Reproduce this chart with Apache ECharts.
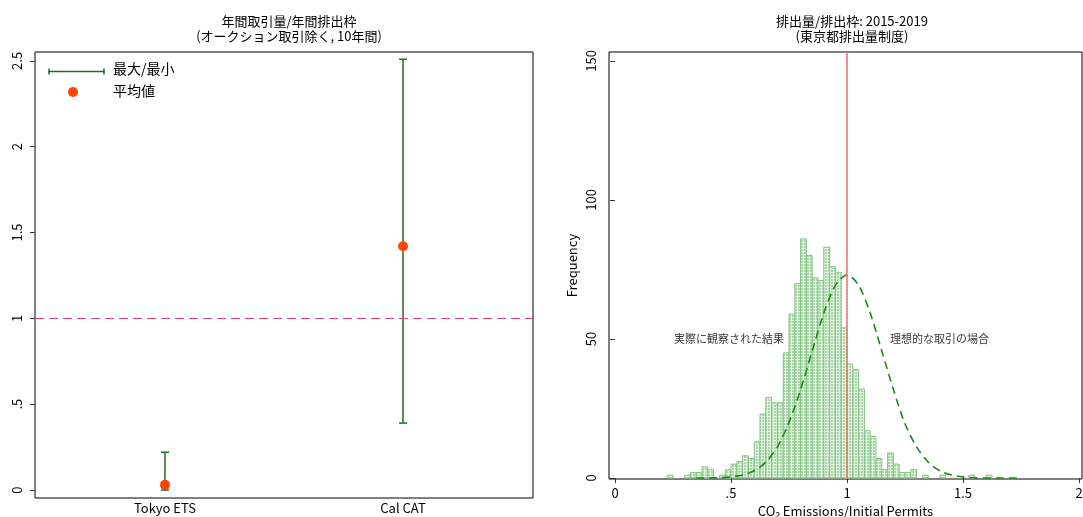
<!DOCTYPE html>
<html>
<head>
<meta charset="utf-8">
<title>排出量と排出枠</title>
<script src="https://cdn.jsdelivr.net/npm/echarts@6/dist/echarts.min.js"></script>
<style>
  html, body { margin: 0; padding: 0; background: #fff; }
  #main { width: 1083px; height: 517px; }
</style>
</head>
<body>
<div id="main"></div>
<script>
  // left panel: trading volume / cap, min-max and mean
  const tradeCats = ['Tokyo ETS', 'Cal CAT'];
  const tradeMin = [0.0, 0.39];
  const tradeMax = [0.22, 2.51];
  const tradeMean = [0.03, 1.42];
  const leftTicks = [0, 0.5, 1, 1.5, 2, 2.5];
  const leftTickLabels = ['0', '.5', '1', '1.5', '2', '2.5'];

  // right panel: histogram of emissions / initial permits (bin width .025)
  const binStart = 0.225;
  const binWidth = 0.025;
  const binCounts = [
    1, 0, 0, 1, 2, 2, 4, 3, 0, 1,
    3, 5, 6, 8, 7, 13, 23, 29, 27, 27,
    45, 59, 70, 86, 80, 72, 71, 83, 76, 74,
    54, 41, 39, 32, 17, 15, 7, 3, 9, 5,
    2, 2, 3, 0, 1, 0, 0, 1, 0, 0,
    0, 0, 1, 0, 0, 1
  ];
  // ideal-trading curve
  const curveX = [0.35, 0.4, 0.45, 0.5, 0.55, 0.6, 0.65, 0.7, 0.75, 0.8,
    0.85, 0.9, 0.95, 1.0, 1.05, 1.1, 1.15, 1.2, 1.25, 1.3,
    1.35, 1.4, 1.45, 1.5, 1.55, 1.6, 1.65, 1.7, 1.75];
  const curveY = [0, 0, 0.1, 0.4, 1.1, 2.6, 5.7, 11.2, 20, 31.8,
    45.7, 59.3, 69.3, 73, 69.3, 59.3, 45.7, 31.8, 19.5, 11.2,
    5.7, 2.6, 1.1, 0.4, 0.1, 0, 0, 0, 0];
  const rightXTicks = [0, 0.5, 1, 1.5, 2];
  const rightXLabels = ['0', '.5', '1', '1.5', '2'];
  const rightYTicks = [0, 50, 100, 150];
  const notes = [
    [0.728, 50, '実際に観察された結果', 'left'],
    [1.185, 50, '理想的な取引の場合', 'right']
  ];

  const font = '"Noto Sans CJK JP", "Noto Sans", sans-serif';
  const green = '#1f6e24';

  // small mesh texture like the stata bar fill
  const tex = document.createElement('canvas');
  tex.width = 3; tex.height = 3;
  const tc = tex.getContext('2d');
  tc.fillStyle = '#a6d6a6';
  tc.fillRect(0, 0, 3, 3);
  tc.fillStyle = '#e2f3e2';
  tc.fillRect(2, 0, 1, 3);
  tc.fillRect(0, 2, 3, 1);

  const errData = tradeCats.map((c, i) => [i + 1, tradeMin[i], tradeMax[i]]);
  const meanData = tradeCats.map((c, i) => [i + 1, tradeMean[i]]);
  const histData = binCounts.map((n, i) => [binStart + i * binWidth, binStart + (i + 1) * binWidth, n]);
  const curveData = curveX.map((x, i) => [x, curveY[i]]);
  const noteData = notes.map(n => ({
    value: [n[0], n[1]],
    label: { position: n[3], distance: 0, formatter: n[2] }
  }));

  const chart = echarts.init(document.getElementById('main'));

  const axisText = { color: '#000', fontFamily: font, fontSize: 13 };
  const titleText = { fontFamily: font, fontSize: 13, fontWeight: 'normal', color: '#000', lineHeight: 15 };

  chart.setOption({
    animation: false,
    title: [
      { text: '年間取引量/年間排出枠\n(オークション取引除く, 10年間)', left: 284, top: 9, textAlign: 'center', textStyle: titleText },
      { text: '排出量/排出枠: 2015-2019\n(東京都排出量制度)', left: 847, top: 9, textAlign: 'center', textStyle: titleText }
    ],
    grid: [
      { left: 35, top: 52, width: 498, height: 446, show: true, borderColor: '#000', borderWidth: 1, outerBoundsMode: 'none', containLabel: false },
      { left: 609, top: 52, width: 473, height: 427, show: true, borderColor: '#000', borderWidth: 1, outerBoundsMode: 'none', containLabel: false }
    ],
    xAxis: [
      {
        type: 'value', gridIndex: 0, min: 0.454, max: 2.546,
        axisLine: { show: false }, splitLine: { show: false }, axisTick: { show: false },
        axisLabel: Object.assign({}, axisText, {
          customValues: [1, 2], margin: 4,
          formatter: v => tradeCats[Math.round(v) - 1]
        })
      },
      {
        type: 'value', gridIndex: 1, min: -0.026, max: 2.013,
        axisLine: { show: false }, splitLine: { show: false },
        axisTick: { show: true, customValues: rightXTicks, length: 5, lineStyle: { color: '#333' } },
        axisLabel: Object.assign({}, axisText, {
          customValues: rightXTicks, margin: 8,
          formatter: v => rightXLabels[rightXTicks.indexOf(v)]
        }),
        name: 'CO₂ Emissions/Initial Permits', nameLocation: 'middle', nameGap: 25,
        nameTextStyle: axisText
      }
    ],
    yAxis: [
      {
        type: 'value', gridIndex: 0, min: -0.0465, max: 2.552,
        axisLine: { show: false }, splitLine: { show: false },
        axisTick: { show: true, customValues: leftTicks, length: 5, lineStyle: { color: '#333' } },
        axisLabel: Object.assign({}, axisText, {
          customValues: leftTicks, rotate: 90, margin: 11,
          formatter: v => leftTickLabels[leftTicks.indexOf(v)]
        })
      },
      {
        type: 'value', gridIndex: 1, min: -0.36, max: 153.2,
        axisLine: { show: false }, splitLine: { show: false },
        axisTick: { show: true, customValues: rightYTicks, length: 5, lineStyle: { color: '#333' } },
        axisLabel: Object.assign({}, axisText, { customValues: rightYTicks, rotate: 90, margin: 11 }),
        name: 'Frequency', nameLocation: 'middle', nameGap: 30,
        nameTextStyle: axisText
      }
    ],
    graphic: [
      {
        type: 'group', left: 46, top: 66,
        children: [
          { type: 'line', shape: { x1: 0, y1: 4, x2: 56, y2: 4 }, style: { stroke: green, lineWidth: 1.5 } },
          { type: 'line', shape: { x1: 0.5, y1: 1, x2: 0.5, y2: 7 }, style: { stroke: green, lineWidth: 1.5 } },
          { type: 'line', shape: { x1: 55.5, y1: 1, x2: 55.5, y2: 7 }, style: { stroke: green, lineWidth: 1.5 } }
        ]
      },
      { type: 'circle', shape: { cx: 73, cy: 92, r: 5 }, style: { fill: '#ff4500' } },
      { type: 'text', left: 113, top: 62, style: { text: '最大/最小', font: '14px ' + font, fill: '#000' } },
      { type: 'text', left: 113, top: 84, style: { text: '平均値', font: '14px ' + font, fill: '#000' } }
    ],
    series: [
      {
        type: 'custom', xAxisIndex: 0, yAxisIndex: 0,
        data: errData,
        encode: { x: 0, y: [1, 2] },
        renderItem: (params, api) => {
          const lo = api.coord([api.value(0), api.value(1)]);
          const hi = api.coord([api.value(0), api.value(2)]);
          const style = { stroke: green, lineWidth: 1.5 };
          return {
            type: 'group',
            children: [
              { type: 'line', shape: { x1: lo[0], y1: lo[1], x2: hi[0], y2: hi[1] }, style },
              { type: 'line', shape: { x1: lo[0] - 4, y1: lo[1], x2: lo[0] + 4, y2: lo[1] }, style },
              { type: 'line', shape: { x1: hi[0] - 4, y1: hi[1], x2: hi[0] + 4, y2: hi[1] }, style }
            ]
          };
        }
      },
      {
        type: 'scatter', xAxisIndex: 0, yAxisIndex: 0,
        data: meanData, symbolSize: 10,
        itemStyle: { color: '#ff4500', opacity: 1 },
        markLine: {
          silent: true, symbol: 'none', label: { show: false },
          lineStyle: { color: '#e0456c', type: [9, 5], width: 1.2 },
          data: [{ yAxis: 1 }]
        }
      },
      {
        type: 'custom', xAxisIndex: 1, yAxisIndex: 1,
        data: histData,
        encode: { x: [0, 1], y: 2 },
        renderItem: (params, api) => {
          const n = api.value(2);
          if (!n) return null;
          const a = api.coord([api.value(0), n]);
          const b = api.coord([api.value(1), 0]);
          return {
            type: 'rect',
            shape: { x: a[0], y: a[1], width: b[0] - a[0], height: b[1] - a[1] },
            style: { fill: { image: tex, repeat: 'repeat' }, stroke: '#84c484', lineWidth: 1 }
          };
        },
        markLine: {
          silent: true, symbol: 'none', label: { show: false },
          lineStyle: { color: '#f26b6b', type: 'solid', width: 1.5 },
          data: [{ xAxis: 1 }]
        }
      },
      {
        type: 'line', xAxisIndex: 1, yAxisIndex: 1,
        data: curveData, smooth: 0.3, showSymbol: false,
        lineStyle: { color: '#1b8a1b', width: 1.6, type: [8, 5] },
        z: 3
      },
      {
        type: 'scatter', xAxisIndex: 1, yAxisIndex: 1,
        data: noteData,
        symbolSize: 0,
        label: { show: true, color: '#000', fontFamily: font, fontSize: 11 }
      }
    ]
  });
</script>
</body>
</html>
